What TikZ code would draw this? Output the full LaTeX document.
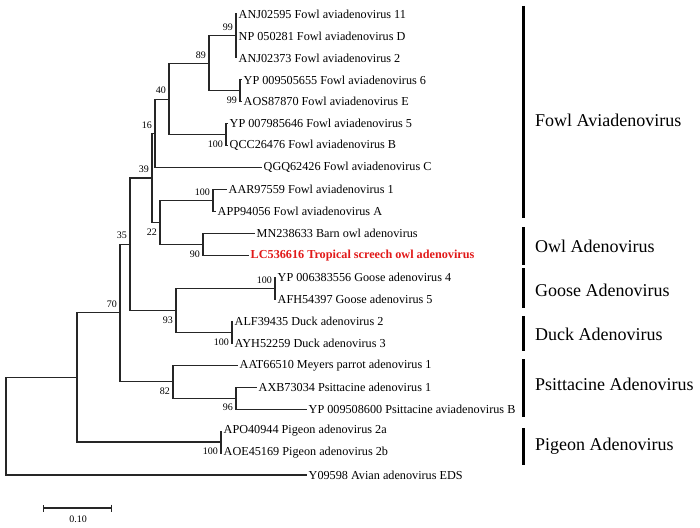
\documentclass[tikz,border=0pt]{standalone}
\usepackage{fontspec}
\setmainfont{Liberation Serif}
\usepackage{xcolor}
\usetikzlibrary{arrows.meta}
\definecolor{owlred}{RGB}{225,25,25}

\begin{document}
\begin{tikzpicture}[x=1pt, y=-1pt,
    branch/.style={draw=black!85, line width=1.1pt},
    leaf/.style={anchor=west, inner sep=1.5pt, font=\fontsize{12.2}{14}\selectfont},
    bsup/.style={anchor=south east, inner sep=2pt, xshift=-1pt, yshift=3pt, font=\fontsize{10}{12}\selectfont},
    bsdn/.style={anchor=north east, inner sep=2pt, xshift=-1pt, yshift=-4pt, font=\fontsize{10}{12}\selectfont},
    group/.style={anchor=west, inner sep=0pt, font=\fontsize{18}{20}\selectfont},
    bracket/.style={line width=3pt}]
    \useasboundingbox (0,0) rectangle (700,527);

    % taxa
    \foreach \i/\x/\txt in {1/237/{ANJ02595 Fowl aviadenovirus 11}, 2/237/{NP 050281 Fowl aviadenovirus D},
        3/237/{ANJ02373 Fowl aviadenovirus 2}, 4/242/{YP 009505655 Fowl aviadenovirus 6},
        5/242/{AOS87870 Fowl aviadenovirus E}, 6/228/{YP 007985646 Fowl aviadenovirus 5},
        7/228/{QCC26476 Fowl aviadenovirus B}, 8/262/{QGQ62426 Fowl aviadenovirus C},
        9/227/{AAR97559 Fowl aviadenovirus 1}, 10/216/{APP94056 Fowl aviadenovirus A},
        11/255/{MN238633 Barn owl adenovirus}, 13/276/{YP 006383556 Goose adenovirus 4},
        14/276/{AFH54397 Goose adenovirus 5}, 15/233/{ALF39435 Duck adenovirus 2},
        16/233/{AYH52259 Duck adenovirus 3}, 17/238/{AAT66510 Meyers parrot adenovirus 1},
        18/257/{AXB73034 Psittacine adenovirus 1}, 19/307/{YP 009508600 Psittacine aviadenovirus B},
        20/222/{APO40944 Pigeon adenovirus 2a}, 21/222/{AOE45169 Pigeon adenovirus 2b},
        22/307/{Y09598 Avian adenovirus EDS}}
        \node[leaf] (l\i) at (\x,{14+(\i-1)*21.95}) {\txt};
    \node[leaf, text=owlred, font=\fontsize{12.2}{14}\selectfont\bfseries] (l12) at (249,255.45) {LC536616 Tropical screech owl adenovirus};

    % internal nodes
    \coordinate (c11D2) at (236,35.95);
    \coordinate (c6E) at (240,90.8);
    \coordinate (c89) at (209,63.4);
    \coordinate (c5B) at (226,134.7);
    \coordinate (c40) at (169,99.1);
    \coordinate (c16) at (155,133.4);
    \coordinate (c1A) at (213,200.6);
    \coordinate (cOwl) at (203,244.5);
    \coordinate (c22) at (160,222.5);
    \coordinate (c39) at (152,178);
    \coordinate (cGoose) at (275,288.4);
    \coordinate (cDuck) at (232,332.3);
    \coordinate (c93) at (176,310.3);
    \coordinate (c35) at (130,244.1);
    \coordinate (cPsB) at (236,398.1);
    \coordinate (c82) at (173,381.7);
    \coordinate (c70) at (120,312.9);
    \coordinate (cPigeon) at (221,442);
    \coordinate (cIn) at (77,377.5);
    \coordinate (root) at (6,426.2);

    % branches
    \foreach \p/\c in {c11D2/l1.west, c11D2/l2.west, c11D2/l3.west, c6E/l4.west, c6E/l5.west,
        c89/c11D2, c89/c6E, c5B/l6.west, c5B/l7.west, c40/c89, c40/c5B, c16/c40, c16/l8.west,
        c1A/l9.west, c1A/l10.west, cOwl/l11.west, cOwl/l12.west, c22/c1A, c22/cOwl, c39/c16, c39/c22,
        cGoose/l13.west, cGoose/l14.west, cDuck/l15.west, cDuck/l16.west, c93/cGoose, c93/cDuck,
        c35/c39, c35/c93, cPsB/l18.west, cPsB/l19.west, c82/l17.west, c82/cPsB, c70/c35, c70/c82,
        cPigeon/l20.west, cPigeon/l21.west, cIn/c70, cIn/cPigeon, root/cIn, root/l22.west}
        \draw[branch] (\p) |- (\c);

    % bootstrap values
    \foreach \c/\s/\v in {c11D2/bsup/99, c6E/bsdn/99, c89/bsup/89, c5B/bsdn/100, c40/bsup/40,
        c16/bsup/16, c1A/bsup/100, cOwl/bsdn/90, c22/bsdn/22, c39/bsup/39, cGoose/bsup/100,
        cDuck/bsdn/100, c93/bsdn/93, c35/bsup/35, c70/bsup/70, c82/bsdn/82, cPsB/bsdn/96,
        cPigeon/bsdn/100}
        \node[\s] (b\c) at (\c) {\v};

    % groups
    \foreach \a/\b/\ly/\g in {6/218/120/Fowl Aviadenovirus, 227/265/246/Owl Adenovirus,
        268/308/290/Goose Adenovirus, 316/351/334/Duck Adenovirus,
        359/417/384/Psittacine Adenovirus, 428/465/446/Pigeon Adenovirus} {
        \draw[bracket] (523,\a) -- (523,\b);
        \node[group] (g\a) at (535,\ly) {\g};
    }

    % scale bar
    \coordinate (sbL) at (43,508);
    \coordinate (sbR) at (112,508);
    \draw[branch, {Bar[width=7pt]}-{Bar[width=7pt]}] (sbL) -- (sbR);
    \node[font=\fontsize{10}{12}\selectfont] (sbT) at (78,519) {0.10};
\end{tikzpicture}
\end{document}
